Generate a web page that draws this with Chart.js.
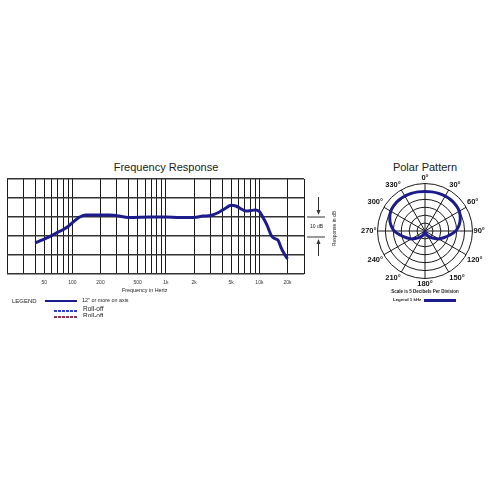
<!DOCTYPE html>
<html>
<head>
<meta charset="utf-8">
<script src="https://cdn.jsdelivr.net/npm/chart.js@4/dist/chart.umd.min.js"></script>
<style>
  html, body { margin:0; padding:0; background:#fff; width:492px; height:492px; overflow:hidden; }
  body { position:relative; font-family:'Liberation Sans', Arial, sans-serif; color:#222; }
  .t { position:absolute; white-space:nowrap; line-height:1; }
  #freqWrap { position:absolute; left:0; top:170px; width:320px; height:130px; }
  #polarWrap { position:absolute; left:359px; top:167px; width:128px; height:128px; }
</style>
</head>
<body>
<div class="t" style="left:0; width:332px; text-align:center; top:162px; font-size:11px;">Frequency Response</div>
<div class="t" style="left:385px; width:80px; text-align:center; top:162px; font-size:11px;">Polar Pattern</div>

<div id="freqWrap"><canvas id="freq"></canvas></div>
<div id="polarWrap"><canvas id="polar"></canvas></div>

<div class="t" style="left:122px; top:288px; font-size:5.4px;">Frequency in Hertz</div>

<!-- right side dB scale note -->
<svg style="position:absolute; left:300px; top:185px;" width="45" height="80">
  <line x1="7" y1="32" x2="25" y2="32" stroke="#333" stroke-width="1"/>
  <line x1="7" y1="52" x2="25" y2="52" stroke="#333" stroke-width="1"/>
  <line x1="18.5" y1="12" x2="18.5" y2="28" stroke="#333" stroke-width="1"/>
  <polygon points="16.5,25 20.5,25 18.5,30" fill="#333"/>
  <line x1="18.5" y1="58" x2="18.5" y2="71" stroke="#333" stroke-width="1"/>
  <polygon points="16.5,59 20.5,59 18.5,54" fill="#333"/>
</svg>
<div class="t" style="left:310px; top:224px; font-size:5px;">10 dB</div>
<div class="t" style="left:314px; top:226px; width:40px; text-align:center; font-size:5px; transform:rotate(-90deg);">Response in dB</div>

<!-- legend -->
<div class="t" style="left:12px; top:298px; font-size:6px;">LEGEND</div>
<div style="position:absolute; left:45px; top:299.5px; width:32px; height:2.5px; background:#1c1c8c;"></div>
<div class="t" style="left:82px; top:298px; font-size:5.4px;">12" or more on axis</div>
<div style="position:absolute; left:54px; top:310px; width:23px; height:2px; background:repeating-linear-gradient(90deg,#2b3bd4 0 3px,transparent 3px 4px);"></div>
<div class="t" style="left:83px; top:306px; font-size:6.5px;">Roll-off</div>
<div style="position:absolute; left:54px; top:315.5px; width:23px; height:2px; background:repeating-linear-gradient(90deg,#8c3355 0 3px,transparent 3px 4px);"></div>
<div style="position:absolute; left:83px; top:313px; height:4px; overflow:hidden;"><div class="t" style="position:relative; font-size:6.5px;">Roll-off</div></div>

<!-- polar notes -->
<div class="t" style="left:375px; width:100px; text-align:center; top:289.5px; font-size:4.5px; font-weight:bold;">Scale is 5 Decibels Per Division</div>
<div class="t" style="left:393px; top:298px; font-size:4.4px; font-weight:bold;">Legend 1 kHz</div>
<div style="position:absolute; left:424px; top:299px; width:32px; height:2.5px; background:#1c1c8c;"></div>

<script>
// ---- Frequency response data ----
const freqHz = [40, 50, 60, 70, 80, 90, 100, 110, 120, 140, 200, 250, 300, 400, 700, 1000, 1400, 2000, 2500, 3000, 3700, 4300, 5000, 5600, 6200, 7200, 8000, 9000, 10000, 11000, 12000, 13500, 15000, 16000, 17000, 18500, 20000];
const responseDb = [-13.6, -11.6, -9.8, -8.0, -6.6, -5.0, -3.0, -1.3, 0.0, 1.0, 1.1, 1.0, 0.7, -0.2, 0.0, 0.0, -0.3, -0.2, 0.5, 0.8, 2.5, 4.5, 6.2, 5.8, 4.6, 3.1, 3.3, 3.7, 2.9, -0.5, -4.0, -10.0, -11.6, -12.6, -16.0, -19.5, -22.0];

// grid frequencies (vertical lines) and labelled ticks
const gridFreqs = [20, 30, 40, 50, 60, 70, 80, 90, 100, 200, 300, 400, 500, 600, 700, 800, 900, 1000, 2000, 3000, 4000, 5000, 6000, 7000, 8000, 9000, 10000, 20000, 30000];
const labelFreqs = [50, 100, 200, 500, 1000, 2000, 5000, 10000, 20000];
const labelTexts = ['50', '100', '200', '500', '1k', '2k', '5k', '10k', '20k'];
const dbTicks = [-30, -20, -10, 0, 10, 20];

// ---- Polar pattern data (1 kHz), dB every 10 degrees ----
const polarAngles = ['0°','10°','20°','30°','40°','50°','60°','70°','80°','90°','100°','110°','120°','130°','140°','150°','160°','170°','180°','190°','200°','210°','220°','230°','240°','250°','260°','270°','280°','290°','300°','310°','320°','330°','340°','350°'];
const polarDb = [-5.0, -4.9, -4.7, -4.5, -4.4, -4.5, -5.0, -6.3, -8.1, -10.6, -14.4, -17.5, -20.0, -22.8, -25.0, -26.6, -27.8, -28.8, -29.5, -28.8, -27.8, -26.6, -25.0, -22.8, -20.0, -17.5, -14.4, -10.6, -8.1, -6.3, -5.0, -4.5, -4.4, -4.5, -4.7, -4.9];

Chart.defaults.font.family = "'Liberation Sans', Arial, sans-serif";
Chart.defaults.color = '#333';
const navy = '#1c1c8c';

new Chart(document.getElementById('freq'), {
  type: 'line',
  data: {
    datasets: [{
      data: freqHz.map((f, i) => ({ x: f, y: responseDb[i] })),
      borderColor: navy,
      borderWidth: 3,
      pointRadius: 0,
      fill: false,
      cubicInterpolationMode: 'monotone'
    }]
  },
  options: {
    responsive: true,
    maintainAspectRatio: false,
    animation: false,
    layout: { padding: { left: 7, right: 16, top: 9, bottom: 0 } },
    plugins: { legend: { display: false }, tooltip: { enabled: false } },
    scales: {
      x: {
        type: 'logarithmic',
        min: 20, max: 30000,
        afterBuildTicks: (s) => { s.ticks = gridFreqs.map(v => ({ value: v })); },
        afterFit: (s) => { s.height = 26; },
        grid: { color: '#1a1a1a', lineWidth: 1, drawTicks: false },
        border: { display: false },
        ticks: {
          autoSkip: false, maxRotation: 0, padding: 6,
          font: { size: 5 }, color: '#333',
          callback: (v) => { const i = labelFreqs.indexOf(v); return i >= 0 ? labelTexts[i] : ''; }
        }
      },
      y: {
        min: -30, max: 20,
        afterBuildTicks: (s) => { s.ticks = dbTicks.map(v => ({ value: v })); },
        afterFit: (s) => { s.width = 0; },
        grid: { color: '#333', lineWidth: 1.4, drawTicks: false },
        border: { display: false },
        ticks: { display: false }
      }
    }
  }
});

new Chart(document.getElementById('polar'), {
  type: 'radar',
  data: {
    labels: polarAngles,
    datasets: [{
      data: polarDb,
      borderColor: navy,
      borderWidth: 3,
      pointRadius: 0,
      fill: false,
      tension: 0.3
    }]
  },
  options: {
    responsive: true,
    maintainAspectRatio: false,
    animation: false,
    layout: { padding: 0 },
    plugins: { legend: { display: false }, tooltip: { enabled: false } },
    scales: {
      r: {
        min: -30, max: 0,
        ticks: { stepSize: 5, display: false },
        grid: { circular: true, color: '#1a1a1a', lineWidth: 1 },
        angleLines: {
          color: (c) => (c.index % 3 === 0 ? '#1a1a1a' : 'rgba(0,0,0,0)'),
          lineWidth: 1
        },
        pointLabels: {
          display: true,
          padding: 1,
          color: '#111',
          font: { size: 7.5, weight: 'bold' },
          callback: (label, i) => (i % 3 === 0 ? label : '')
        }
      }
    }
  }
});
</script>
</body>
</html>
